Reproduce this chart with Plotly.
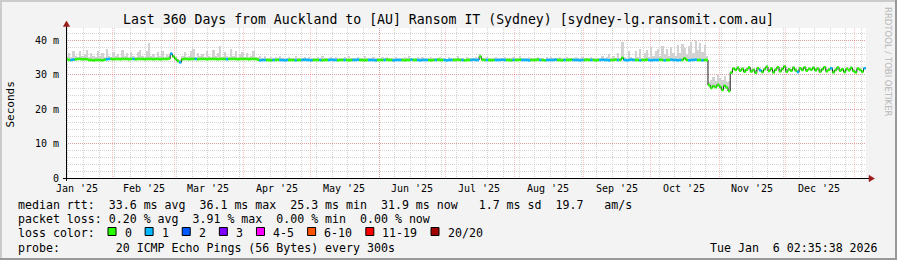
import plotly.graph_objects as go
from datetime import datetime, timedelta

# ---------------- data ----------------
START = datetime(2025, 1, 11)
X_RANGE = ["2025-01-11 02:35:38", "2026-01-06 02:35:38"]

median_rtt = [
    34.5, 34.3, 34.3, 34.4, 34.5, 34.6, 34.6, 34.5, 34.6, 34.5,
    34.3, 34.3, 34.2, 34.3, 34.3, 34.3, 34.2, 34.4, 34.5, 34.6,
    34.6, 34.5, 34.6, 34.6, 34.5, 34.6, 34.6, 34.6, 34.5, 34.6,
    34.6, 34.5, 34.6, 34.6, 34.6, 34.5, 34.6, 34.6, 34.6, 34.5,
    34.6, 34.6, 34.5, 34.6, 34.6, 34.6, 34.7, 36.1, 35.3, 34.6,
    34.0, 33.6, 34.5, 34.6, 34.6, 34.5, 34.6, 34.6, 34.6, 34.5,
    34.6, 34.6, 34.6, 34.5, 34.6, 34.6, 34.6, 34.6, 34.5, 34.6,
    34.6, 34.6, 34.5, 34.6, 34.6, 34.6, 34.6, 34.5, 34.6, 34.6,
    34.6, 34.6, 34.5, 34.6, 34.6, 34.6, 34.4, 34.2, 34.3, 34.3,
    34.3, 34.3, 34.2, 34.3, 34.3, 34.4, 34.3, 34.3, 34.2, 34.3,
    34.3, 34.3, 34.3, 34.2, 34.3, 34.3, 34.3, 34.4, 34.3, 34.3,
    34.2, 34.3, 34.3, 34.3, 34.3, 34.2, 34.3, 34.3, 34.3, 34.4,
    34.3, 34.3, 34.2, 34.3, 34.3, 34.3, 34.3, 34.2, 34.3, 34.3,
    34.3, 34.4, 34.3, 34.3, 34.2, 34.3, 34.3, 34.3, 34.3, 34.2,
    34.3, 34.3, 34.3, 34.3, 34.4, 34.3, 34.3, 34.2, 34.3, 34.3,
    34.3, 34.3, 34.2, 34.3, 34.3, 34.4, 34.3, 34.3, 34.3, 34.2,
    34.3, 34.3, 34.3, 34.3, 34.2, 34.3, 34.3, 34.4, 34.3, 34.3,
    34.3, 34.2, 34.3, 34.3, 34.3, 34.3, 34.4, 34.3, 34.3, 34.2,
    34.3, 34.3, 34.3, 34.4, 34.3, 34.3, 35.3, 34.4, 34.3, 34.3,
    34.3, 34.2, 34.3, 34.3, 34.3, 34.3, 34.4, 34.3, 34.3, 34.3,
    34.2, 34.3, 34.3, 34.3, 34.4, 34.3, 34.3, 34.3, 34.2, 34.3,
    34.3, 34.3, 34.4, 34.3, 34.3, 34.2, 34.3, 34.3, 34.3, 34.3,
    34.4, 34.3, 34.3, 34.2, 34.3, 34.3, 34.3, 34.4, 34.3, 34.3,
    34.3, 34.2, 34.3, 34.3, 34.4, 34.3, 34.3, 34.3, 34.2, 34.3,
    34.3, 34.4, 34.3, 34.3, 34.2, 34.3, 34.3, 34.4, 34.3, 34.3,
    34.9, 34.3, 34.2, 34.3, 34.4, 34.3, 34.3, 34.3, 34.2, 34.3,
    34.3, 34.4, 34.3, 34.2, 34.3, 34.3, 34.3, 34.4, 34.3, 34.2,
    34.3, 34.3, 34.4, 34.3, 34.3, 34.2, 34.3, 34.3, 34.8, 34.3,
    34.2, 34.3, 34.3, 34.4, 34.3, 34.3, 34.2, 34.3, 34.3,
    27.0, 26.2, 26.7, 26.4, 27.1, 26.5, 25.6, 26.8, 26.3, 25.3,
    30.6, 31.8, 31.4, 32.0, 31.2, 31.7, 30.9, 31.5, 32.1, 31.0,
    31.4, 30.6, 31.9, 31.3, 30.8, 31.6, 32.3, 31.1, 31.8, 30.7,
    31.5, 32.2, 31.0, 31.7, 32.4, 30.9, 31.6, 31.2, 32.0, 31.3,
    30.8, 31.9, 31.4, 32.1, 31.2, 31.7, 31.5, 32.0, 31.3, 31.8,
    30.9, 31.6, 32.2, 31.0, 31.5, 31.9, 30.7, 31.4, 32.1, 31.2,
    31.6, 30.8, 31.7, 31.3, 32.0, 31.1, 30.7, 31.8, 31.4, 30.9, 31.9,
]

smoke_top = [
    35.4, 36.3, 35.2, 36.8, 35.6, 35.3, 37.0, 35.5, 36.1, 37.2,
    35.3, 36.4, 35.6, 35.2, 36.9, 35.4, 36.2, 35.3, 37.4, 35.6,
    35.2, 36.6, 35.5, 36.0, 35.3, 37.1, 35.4, 36.3, 35.2, 36.7,
    35.5, 35.3, 36.5, 37.3, 35.4, 35.2, 36.8, 39.2, 35.6, 36.0,
    35.3, 36.6, 35.4, 37.0, 35.2, 36.1, 35.5, 36.6, 35.8, 35.3,
    34.6, 34.2, 35.6, 36.7, 35.3, 35.5, 36.9, 37.4, 35.2, 36.2,
    35.4, 36.0, 35.2, 36.8, 35.5, 35.3, 37.1, 35.6, 36.4, 38.4,
    35.2, 36.7, 35.5, 35.3, 37.6, 35.4, 36.8, 35.2, 36.0, 36.6,
    35.3, 36.4, 35.2, 35.6, 36.9, 35.3, 35.2, 35.5, 35.0, 35.4,
    35.0, 34.8, 35.3, 34.9, 35.1, 34.7, 35.4, 34.8, 35.0, 34.9,
    35.2, 34.7, 34.9, 35.5, 34.8, 35.0, 34.7, 35.1, 34.9, 35.3,
    34.8, 35.0, 34.7, 35.2, 34.9, 35.6, 34.8, 35.0, 34.7, 35.1,
    34.9, 35.3, 34.8, 35.0, 34.7, 35.2, 34.9, 35.4, 34.8, 35.0,
    34.7, 35.1, 34.9, 35.0, 35.5, 34.8, 35.0, 34.7, 35.2, 34.9,
    35.0, 34.8, 35.3, 34.9, 35.1, 34.7, 35.0, 34.8, 35.2, 34.9,
    35.0, 34.7, 35.1, 34.9, 35.4, 34.8, 35.0, 34.7, 35.1, 34.9,
    35.2, 34.8, 35.0, 34.7, 35.3, 34.9, 35.0, 34.8, 35.1, 34.9,
    35.0, 34.7, 35.2, 34.9, 35.0, 34.8, 35.5, 34.9, 35.0, 34.7,
    35.1, 34.9, 35.0, 34.8, 35.2, 34.9, 35.9, 35.0, 34.8, 35.1,
    34.9, 35.0, 34.7, 35.2, 34.9, 35.0, 34.8, 35.3, 34.9, 35.0,
    34.8, 35.1, 34.9, 35.0, 35.4, 34.8, 35.0, 34.7, 35.1, 34.9,
    35.0, 34.8, 35.2, 34.9, 35.0, 34.7, 35.1, 34.9, 35.3, 34.8,
    35.0, 34.9, 35.1, 34.8, 35.0, 35.2, 34.9, 35.0, 34.8, 35.1,
    34.9, 35.0, 35.3, 34.8, 35.0, 34.9, 35.2, 34.8, 35.0, 34.9,
    34.8, 35.6, 34.9, 35.2, 36.1, 34.8, 35.4, 35.0, 36.4, 34.9,
    39.5, 35.2, 34.8, 37.0, 35.3, 34.9, 36.8, 35.1, 37.5, 35.0,
    36.2, 37.2, 35.1, 38.0, 35.6, 36.9, 37.6, 35.4, 38.3, 36.0,
    37.4, 35.6, 38.1, 36.2, 35.5, 38.6, 36.4, 39.0, 37.8, 35.9,
    38.5, 39.6, 36.4, 40.2, 37.1, 39.3, 36.6, 38.8, 35.6,
    27.8, 28.6, 29.4, 28.2, 30.2, 29.0, 28.4, 29.6, 27.9, 28.3,
    31.2, 32.3, 32.0, 32.5, 31.8, 32.2, 31.6, 32.0, 32.6, 31.6,
    32.0, 31.3, 32.4, 31.9, 31.5, 32.1, 32.8, 31.7, 32.3, 31.4,
    32.0, 32.7, 31.6, 32.2, 32.9, 31.6, 32.1, 31.8, 32.5, 31.9,
    31.5, 32.4, 32.0, 32.6, 31.8, 32.2, 32.0, 32.5, 31.9, 32.3,
    31.6, 32.1, 32.7, 31.6, 32.0, 32.4, 31.4, 31.9, 32.6, 31.8,
    32.1, 31.5, 32.2, 31.9, 32.5, 31.7, 31.4, 32.3, 31.9, 31.5, 32.4,
]

loss_level = [
    0, 0, 1, 1, 0, 0, 0, 0, 0, 0, 0, 0, 0, 0, 0, 0, 0, 0, 1, 1, 0, 0, 0, 0, 0, 0, 0, 0, 0, 0,
    1, 0, 0, 0, 0, 0, 0, 0, 0, 0, 0, 0, 0, 0, 0, 0, 0, 1, 0, 0, 0, 1, 0, 0, 0, 0, 0, 0, 1, 0,
    0, 0, 0, 0, 0, 0, 0, 0, 0, 0, 0, 0, 1, 0, 0, 0, 0, 0, 0, 0, 0, 0, 0, 0, 0, 0, 0, 1, 1, 1,
    0, 0, 0, 1, 0, 0, 1, 1, 1, 1, 0, 0, 0, 1, 0, 0, 1, 1, 1, 1, 1, 0, 0, 0, 1, 0, 0, 0, 1, 1,
    1, 1, 0, 0, 0, 1, 0, 0, 0, 1, 1, 1, 0, 0, 0, 0, 1, 1, 1, 1, 0, 0, 0, 1, 0, 0, 0, 1, 1, 1,
    1, 0, 0, 0, 0, 1, 0, 0, 1, 1, 1, 1, 1, 0, 0, 0, 1, 0, 0, 0, 1, 1, 1, 1, 0, 0, 0, 0, 1, 0,
    0, 0, 1, 1, 1, 1, 0, 0, 0, 1, 0, 0, 0, 1, 1, 1, 1, 1, 0, 0, 0, 1, 0, 0, 0, 1, 1, 1, 1, 0,
    0, 0, 0, 1, 0, 0, 1, 1, 1, 1, 1, 0, 0, 0, 1, 0, 0, 0, 1, 1, 1, 1, 1, 0, 0, 0, 1, 0, 0, 0,
    1, 1, 1, 1, 1, 0, 0, 0, 1, 0, 0, 1, 1, 1, 1, 1, 0, 0, 1, 0, 0, 0, 1, 1, 1, 1, 1, 0, 0, 1,
    0, 0, 1, 1, 1, 1, 1, 0, 0, 0, 1, 1, 1, 1, 0, 0, 1, 0, 0, 0, 0, 0, 0, 0, 0, 0, 0, 0, 0, 0,
    0, 0, 0, 0, 0, 0, 0, 0, 0, 0, 0, 0, 1, 0, 0, 0, 0, 0, 0, 0, 0, 0, 0, 0, 0, 0, 0, 0, 0, 1,
    0, 0, 0, 0, 0, 0, 0, 0, 0, 0, 0, 0, 0, 0, 1, 0, 0, 0, 0, 0, 0, 0, 0, 0, 0, 0, 0, 0, 0, 1,
]

month_starts = ["2025-02-01", "2025-03-01", "2025-04-01", "2025-05-01", "2025-06-01", "2025-07-01",
                "2025-08-01", "2025-09-01", "2025-10-01", "2025-11-01", "2025-12-01", "2026-01-01"]
month_label_pos = ["2025-01-16", "2025-02-15", "2025-03-16", "2025-04-16", "2025-05-16", "2025-06-16",
                   "2025-07-16", "2025-08-16", "2025-09-16", "2025-10-16", "2025-11-16", "2025-12-16"]
month_labels = ["Jan '25", "Feb '25", "Mar '25", "Apr '25", "May '25", "Jun '25",
                "Jul '25", "Aug '25", "Sep '25", "Oct '25", "Nov '25", "Dec '25"]

y_tickvals = [0, 10, 20, 30, 40]
y_ticktext = ["0", "10 m", "20 m", "30 m", "40 m"]

stat_names = ["avg", "max", "min", "now"]
rtt_values = [33.6, 36.1, 25.3, 31.9]
rtt_sd = 1.7
rtt_ams = 19.7
loss_values = [0.20, 3.91, 0.00, 0.00]

loss_labels = ["0", "1", "2", "3", "4-5", "6-10", "11-19", "20/20"]
loss_colors = ["#26ff00", "#00b8ff", "#0059ff", "#7e00ff", "#ff00ff", "#ff5500", "#ff0000", "#a10000"]

title_text = "Last 360 Days from Auckland to [AU] Ransom IT (Sydney) [sydney-lg.ransomit.com.au]"
probe_text = "probe:        20 ICMP Echo Pings (56 Bytes) every 300s"
date_text = "Tue Jan  6 02:35:38 2026"

assert len(median_rtt) == 360 and len(smoke_top) == 360 and len(loss_level) == 360

# ---------------- layout geometry ----------------
W, H = 897, 260
L, T, PW, PH = 66, 28, 800, 150
MONO = "DejaVu Sans Mono"


def px(x):
    return (x - L) / PW


def py(y):
    return (T + PH - y) / PH


def nb(s):
    return s.replace(" ", "\u00a0")


days = [START + timedelta(days=i) for i in range(360)]
one_day = timedelta(days=1)

fig = go.Figure()

# smoke
fig.add_trace(go.Bar(
    x=[d + timedelta(hours=12) for d in days],
    y=[s - m for s, m in zip(smoke_top, median_rtt)],
    base=median_rtt,
    width=86400000,
    marker=dict(color="#d2d2d2", line=dict(width=0)),
    hoverinfo="skip", showlegend=False,
))

# thin dark median (visible at steps)
fig.add_trace(go.Scatter(
    x=days + [days[-1] + one_day], y=median_rtt + [median_rtt[-1]],
    mode="lines", line=dict(color="#1a1a1a", width=1, shape="hv"),
    hoverinfo="skip", showlegend=False,
))

# loss-coloured median segments
for lvl in sorted(set(loss_level)):
    xs, ys = [], []
    for i in range(360):
        if loss_level[i] == lvl:
            xs += [days[i], days[i] + one_day, None]
            ys += [median_rtt[i], median_rtt[i], None]
    fig.add_trace(go.Scatter(
        x=xs, y=ys, mode="lines",
        line=dict(color=loss_colors[lvl], width=2.6),
        hoverinfo="skip", showlegend=False,
    ))

annotations = []
shapes = []

# title
annotations.append(dict(text=nb(title_text), x=px(448.5), y=py(19.5), xref="paper", yref="paper",
                        xanchor="center", yanchor="middle", showarrow=False,
                        font=dict(family=MONO, size=13.2, color="#000000")))
# x tick labels
for pos, lab in zip(month_label_pos, month_labels):
    annotations.append(dict(text=nb(lab), x=pos, y=py(188.5), xref="x", yref="paper",
                            xanchor="center", yanchor="middle", showarrow=False,
                            font=dict(family=MONO, size=10, color="#000000")))
# y title
annotations.append(dict(text="Seconds", x=px(10.5), y=py(104), xref="paper", yref="paper",
                        xanchor="center", yanchor="middle", showarrow=False, textangle=-90,
                        font=dict(family=MONO, size=11, color="#000000")))
# rrdtool watermark
annotations.append(dict(text="RRDTOOL / TOBI OETIKER", x=px(888), y=py(62), xref="paper", yref="paper",
                        xanchor="center", yanchor="middle", showarrow=False, textangle=90,
                        font=dict(family="DejaVu Sans", size=8.5, color="#b8b8b8")))

# legend rows
row1 = "median rtt:  " + "  ".join(f"{v:.1f} ms {n}" for v, n in zip(rtt_values, stat_names)) \
       + f"   {rtt_sd:.1f} ms sd  {rtt_ams:.1f}   am/s"
row2 = "packet loss: " + "  ".join(f"{v:.2f} % {n}" for v, n in zip(loss_values, stat_names))
LEG_FONT = dict(family=MONO, size=11.6, color="#000000")
for txt, yc in [(row1, 205), (row2, 219), ("loss color:", 232.5), (probe_text, 247.5)]:
    annotations.append(dict(text=nb(txt), x=px(16), y=py(yc), xref="paper", yref="paper",
                            xanchor="left", yanchor="middle", showarrow=False, font=LEG_FONT))
annotations.append(dict(text=nb(date_text), x=px(880), y=py(247.5), xref="paper", yref="paper",
                        xanchor="right", yanchor="middle", showarrow=False, font=LEG_FONT))

# loss colour boxes
cw = 7.02
cx = 108.0
for lab, col in zip(loss_labels, loss_colors):
    shapes.append(dict(type="rect", xref="paper", yref="paper",
                       x0=px(cx), x1=px(cx + 8), y0=py(235.5), y1=py(227.5),
                       fillcolor=col, line=dict(color="#000000", width=1)))
    annotations.append(dict(text=nb(lab), x=px(cx + 14.5), y=py(232.5), xref="paper", yref="paper",
                            xanchor="left", yanchor="middle", showarrow=False, font=LEG_FONT))
    cx += 14.5 + cw * len(lab) + 15.6

# axes lines + arrows
shapes.append(dict(type="line", xref="paper", yref="paper", x0=px(63), x1=px(870),
                   y0=py(178.5), y1=py(178.5), line=dict(color="#000000", width=1)))
shapes.append(dict(type="line", xref="paper", yref="paper", x0=px(66.5), x1=px(66.5),
                   y0=py(181), y1=py(25), line=dict(color="#000000", width=1)))
shapes.append(dict(type="path", xref="paper", yref="paper",
                   path=f"M {px(869)} {py(175.3)} L {px(874.5)} {py(178.5)} L {px(869)} {py(181.7)} Z",
                   fillcolor="#9b1b1b", line=dict(color="#9b1b1b", width=0.5)))
shapes.append(dict(type="path", xref="paper", yref="paper",
                   path=f"M {px(63.3)} {py(26.5)} L {px(66.5)} {py(21)} L {px(69.7)} {py(26.5)} Z",
                   fillcolor="#9b1b1b", line=dict(color="#9b1b1b", width=0.5)))

# 3-D border
shapes += [
    dict(type="rect", xref="paper", yref="paper", x0=px(0), x1=px(W), y0=py(0), y1=py(2),
         fillcolor="#cbcbcb", line=dict(width=0), layer="below"),
    dict(type="rect", xref="paper", yref="paper", x0=px(0), x1=px(2), y0=py(0), y1=py(H),
         fillcolor="#cbcbcb", line=dict(width=0), layer="below"),
    dict(type="rect", xref="paper", yref="paper", x0=px(0), x1=px(W), y0=py(H - 2), y1=py(H),
         fillcolor="#999999", line=dict(width=0), layer="below"),
    dict(type="rect", xref="paper", yref="paper", x0=px(W - 2), x1=px(W), y0=py(0), y1=py(H),
         fillcolor="#999999", line=dict(width=0), layer="below"),
]

RED_GRID = "rgba(255,0,0,0.24)"
fig.update_layout(
    width=W, height=H, autosize=False,
    margin=dict(l=L, r=W - L - PW, t=T, b=H - T - PH, pad=0),
    paper_bgcolor="#f3f3f3", plot_bgcolor="#ffffff",
    barmode="overlay", bargap=0, showlegend=False,
    annotations=annotations, shapes=shapes,
    xaxis=dict(type="date", range=X_RANGE, tickmode="array", tickvals=month_starts,
               showticklabels=False, ticks="", showline=False, zeroline=False,
               showgrid=True, gridcolor=RED_GRID, griddash="1px,1px", gridwidth=1,
               minor=dict(dtick=7 * 86400000, tick0="2025-01-12", showgrid=True,
                          gridcolor="#d4d4d4", griddash="1px,1px", gridwidth=1, ticks="")),
    yaxis=dict(range=[0, 43.6], tickmode="array", tickvals=y_tickvals, ticktext=y_ticktext,
               ticks="", showline=False, zeroline=False, ticklabelstandoff=6,
               tickfont=dict(family=MONO, size=10, color="#000000"),
               showgrid=True, gridcolor=RED_GRID, griddash="1px,1px", gridwidth=1,
               minor=dict(dtick=2, tick0=0, showgrid=True, gridcolor="#d4d4d4",
                          griddash="1px,1px", gridwidth=1, ticks="")),
)

fig.write_html("out.html", config={"displayModeBar": False})
